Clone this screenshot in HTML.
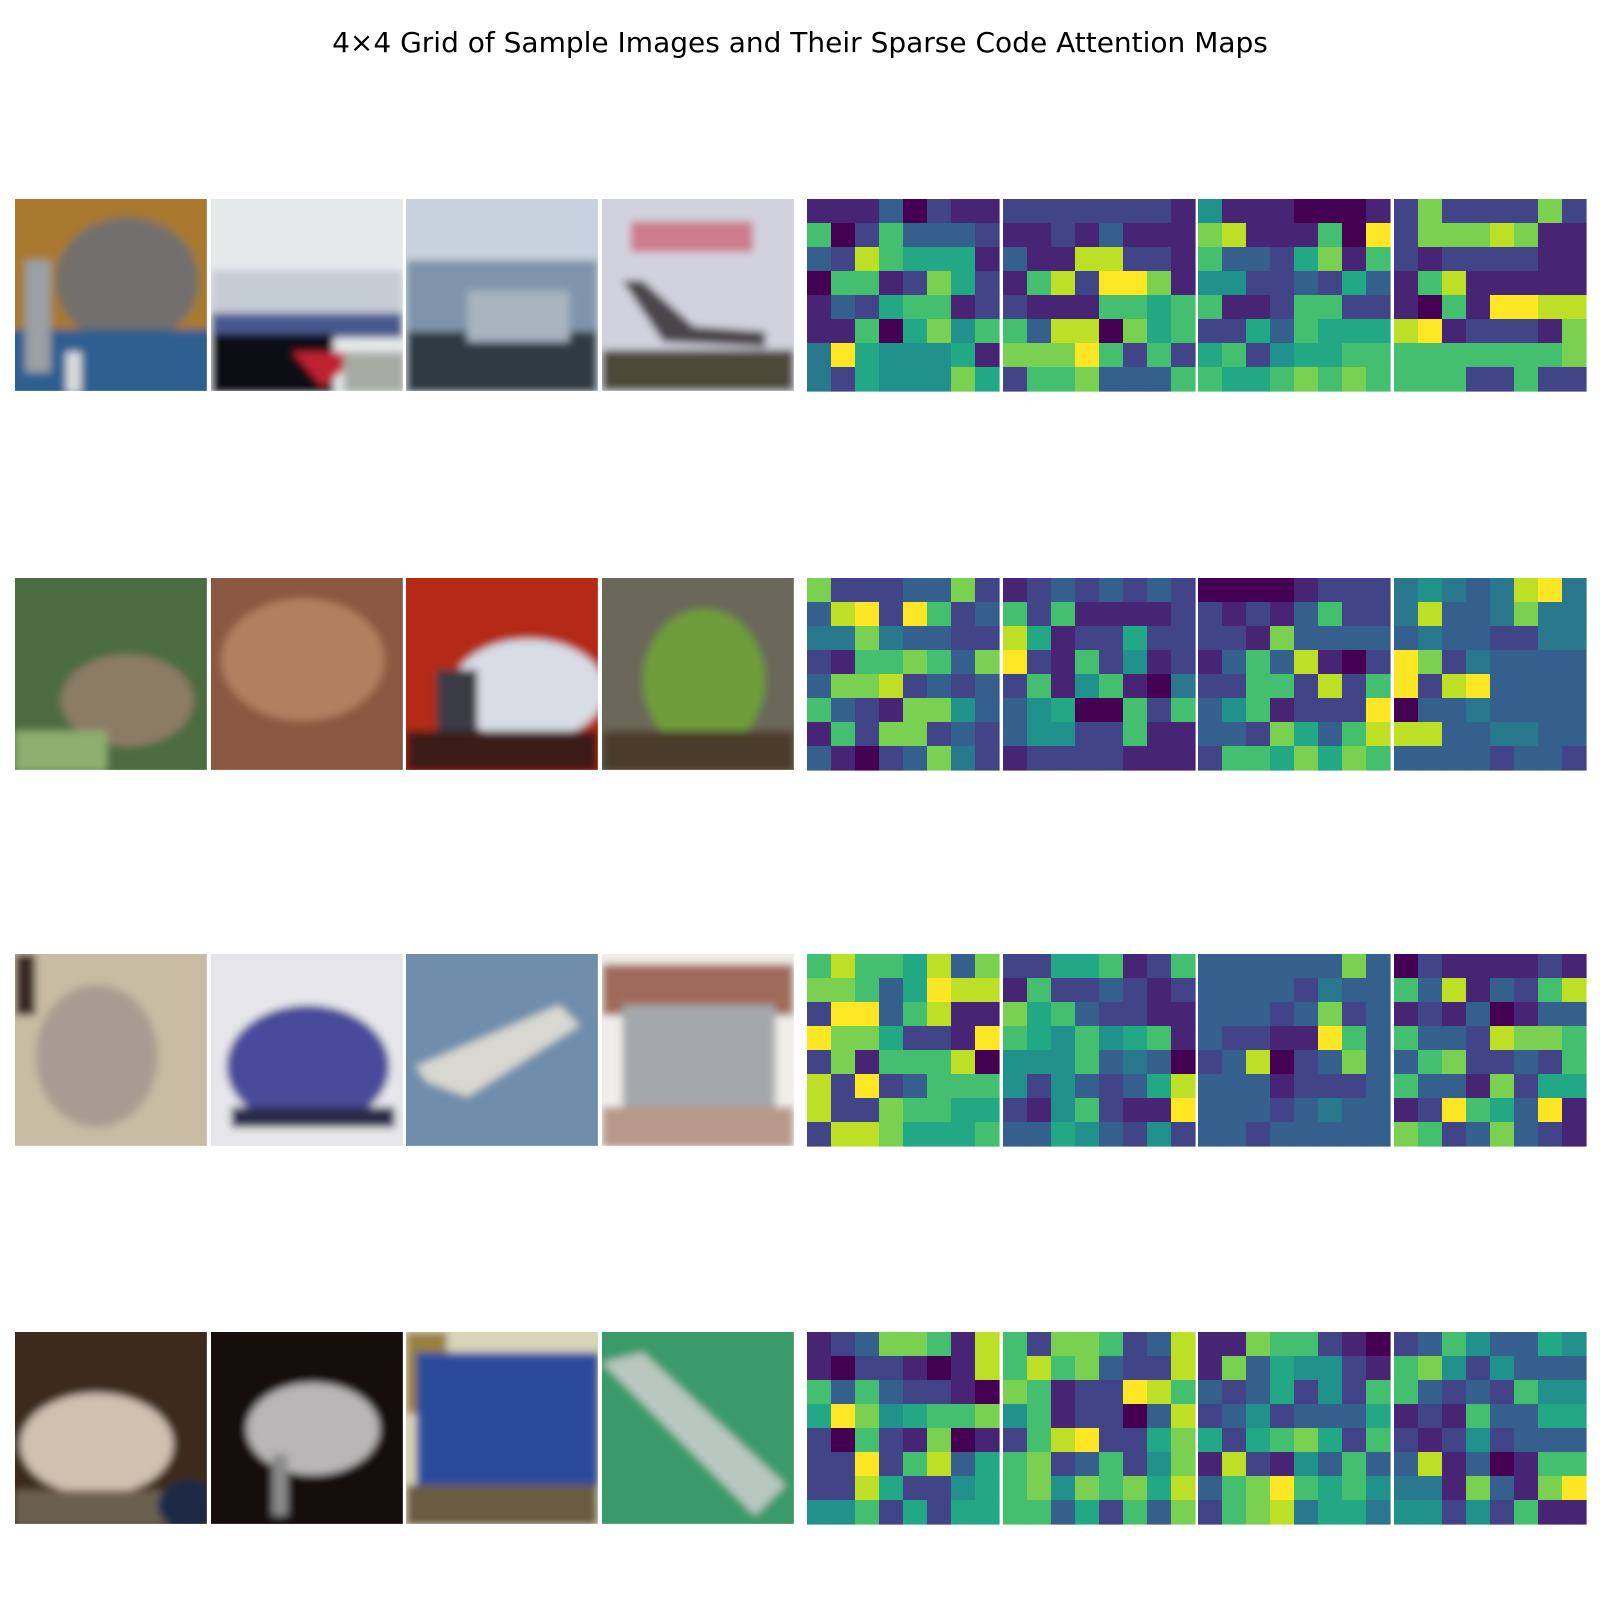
<!DOCTYPE html>
<html><head><meta charset="utf-8"><style>
html,body{margin:0;padding:0;background:#fff;}
#root{position:relative;width:1600px;height:1600px;overflow:hidden;font-family:"DejaVu Sans","Liberation Sans",sans-serif;}
#title{position:absolute;left:0;width:1600px;top:26px;text-align:center;font-size:28px;color:#000;}
svg{position:absolute;left:0;top:0;}
</style></head><body>
<div id="root">
<div id="title">4×4 Grid of Sample Images and Their Sparse Code Attention Maps</div>
<svg id="fig" width="1600" height="1600">
<defs><filter id="bl" x="-10%" y="-10%" width="120%" height="120%"><feGaussianBlur stdDeviation="4"/></filter>
<clipPath id="cp"><rect x="0" y="0" width="188" height="188"/></clipPath></defs>
<g transform="translate(15,199) scale(1.0204)" clip-path="url(#cp)"><g filter="url(#bl)">
<rect x="-10" y="-10" width="210" height="210" fill="#a8792e"/><ellipse cx="110" cy="80" rx="70" ry="62" fill="#72706c"/><rect x="-10" y="128" width="210" height="70" fill="#2f5f90"/><rect x="10" y="60" width="25" height="110" fill="#9aa0a4"/><rect x="50" y="150" width="15" height="40" fill="#d8dcde"/></g></g>
<g transform="translate(211,199) scale(1.0204)" clip-path="url(#cp)"><g filter="url(#bl)">
<rect x="-10" y="-10" width="210" height="210" fill="#e6e9ea"/><rect x="0" y="70" width="188" height="50" fill="#c6ccd4"/><rect x="0" y="112" width="188" height="24" fill="#4a5890"/><rect x="0" y="132" width="120" height="60" fill="#0c0a12"/><polygon points="80,150 150,150 110,185" fill="#c02030"/><rect x="130" y="150" width="60" height="40" fill="#a6aca4"/></g></g>
<g transform="translate(406,199) scale(1.0204)" clip-path="url(#cp)"><g filter="url(#bl)">
<rect x="-10" y="-10" width="210" height="210" fill="#c8d2de"/><rect x="0" y="60" width="188" height="80" fill="#7f94aa"/><rect x="0" y="130" width="188" height="60" fill="#2e3a42"/><rect x="60" y="90" width="100" height="50" fill="#a8b4c0"/></g></g>
<g transform="translate(602,199) scale(1.0204)" clip-path="url(#cp)"><g filter="url(#bl)">
<rect x="-10" y="-10" width="210" height="210" fill="#d2d2de"/><rect x="28" y="22" width="120" height="30" fill="#cc7c8c"/><polygon points="20,80 40,80 90,125 160,130 160,145 60,140" fill="#4a4448"/><rect x="0" y="148" width="188" height="40" fill="#4c4838"/></g></g>
<g transform="translate(15,578) scale(1.0204)" clip-path="url(#cp)"><g filter="url(#bl)">
<rect x="-10" y="-10" width="210" height="210" fill="#4c6c40"/><ellipse cx="110" cy="120" rx="65" ry="45" fill="#8c7c66"/><rect x="0" y="150" width="90" height="40" fill="#8cb070"/></g></g>
<g transform="translate(211,578) scale(1.0204)" clip-path="url(#cp)"><g filter="url(#bl)">
<rect x="-10" y="-10" width="210" height="210" fill="#8a5840"/><ellipse cx="90" cy="80" rx="80" ry="60" fill="#b08060"/></g></g>
<g transform="translate(406,578) scale(1.0204)" clip-path="url(#cp)"><g filter="url(#bl)">
<rect x="-10" y="-10" width="210" height="210" fill="#b42a12"/><ellipse cx="120" cy="110" rx="75" ry="50" fill="#d8dce4"/><rect x="0" y="150" width="188" height="40" fill="#3a1a16"/><rect x="30" y="90" width="40" height="60" fill="#3a3a44"/></g></g>
<g transform="translate(602,578) scale(1.0204)" clip-path="url(#cp)"><g filter="url(#bl)">
<rect x="-10" y="-10" width="210" height="210" fill="#6a6858"/><ellipse cx="100" cy="100" rx="60" ry="70" fill="#6e9c3a"/><rect x="0" y="150" width="188" height="40" fill="#4c3a2c"/></g></g>
<g transform="translate(15,954) scale(1.0204)" clip-path="url(#cp)"><g filter="url(#bl)">
<rect x="-10" y="-10" width="210" height="210" fill="#c8bca4"/><ellipse cx="80" cy="100" rx="60" ry="70" fill="#a89c92"/><rect x="0" y="0" width="20" height="60" fill="#3a2a24"/></g></g>
<g transform="translate(211,954) scale(1.0204)" clip-path="url(#cp)"><g filter="url(#bl)">
<rect x="-10" y="-10" width="210" height="210" fill="#e6e6ea"/><ellipse cx="95" cy="110" rx="80" ry="60" fill="#4a4c9a"/><rect x="20" y="150" width="160" height="20" fill="#2a2a4a"/></g></g>
<g transform="translate(406,954) scale(1.0204)" clip-path="url(#cp)"><g filter="url(#bl)">
<rect x="-10" y="-10" width="210" height="210" fill="#6f8eac"/><polygon points="10,110 150,50 170,70 60,140 20,125" fill="#d8d8d0"/></g></g>
<g transform="translate(602,954) scale(1.0204)" clip-path="url(#cp)"><g filter="url(#bl)">
<rect x="-10" y="-10" width="210" height="210" fill="#f0eeea"/><rect x="0" y="10" width="188" height="50" fill="#a06a5a"/><rect x="20" y="50" width="150" height="110" fill="#a4a8aa"/><rect x="0" y="150" width="188" height="40" fill="#b89888"/></g></g>
<g transform="translate(15,1332) scale(1.0204)" clip-path="url(#cp)"><g filter="url(#bl)">
<rect x="-10" y="-10" width="210" height="210" fill="#3c2c1c"/><ellipse cx="80" cy="110" rx="75" ry="50" fill="#d0c0b0"/><rect x="0" y="155" width="188" height="35" fill="#6a6050"/><ellipse cx="170" cy="170" rx="30" ry="25" fill="#1e2a44"/></g></g>
<g transform="translate(211,1332) scale(1.0204)" clip-path="url(#cp)"><g filter="url(#bl)">
<rect x="-10" y="-10" width="210" height="210" fill="#14100e"/><ellipse cx="100" cy="95" rx="65" ry="45" fill="#b8b6b6"/><rect x="60" y="120" width="15" height="60" fill="#8a8a8a"/></g></g>
<g transform="translate(406,1332) scale(1.0204)" clip-path="url(#cp)"><g filter="url(#bl)">
<rect x="-10" y="-10" width="210" height="210" fill="#d8d4b8"/><rect x="0" y="0" width="40" height="80" fill="#9a8040"/><rect x="10" y="20" width="180" height="130" fill="#2a4c9c"/><rect x="0" y="150" width="188" height="40" fill="#6a5c40"/></g></g>
<g transform="translate(602,1332) scale(1.0204)" clip-path="url(#cp)"><g filter="url(#bl)">
<rect x="-10" y="-10" width="210" height="210" fill="#3a9a6a"/><polygon points="0,30 40,20 180,150 150,180" fill="#b8c8c0"/></g></g>
</svg>
</div>
<script>
var map1=[[1,1,1,3,0,2,1,1],[7,0,2,7,3,3,3,2],[3,2,9,7,6,6,6,1],[0,7,7,1,2,8,6,2],[1,3,2,6,7,7,1,2],[1,1,7,0,6,8,5,7],[4,10,6,5,5,5,6,1],[4,2,6,5,5,5,8,6]];
var map2=[[2,2,2,2,2,2,2,1],[1,1,2,1,3,1,1,1],[3,1,1,9,9,2,2,1],[1,7,9,2,10,10,8,1],[2,1,1,1,7,7,6,7],[7,3,9,9,0,8,6,7],[8,8,8,10,7,2,7,2],[2,7,7,8,3,3,3,7]];
var map3=[[5,1,1,1,0,0,0,1],[8,9,1,1,1,7,0,10],[7,3,3,2,6,8,1,7],[5,5,2,2,3,2,6,3],[7,1,1,2,7,7,2,2],[2,2,6,3,7,6,6,6],[6,7,2,5,6,6,7,7],[7,6,6,7,8,7,8,7]];
var map4=[[2,8,2,2,2,2,8,2],[2,8,8,8,9,8,1,1],[2,1,2,2,2,2,1,1],[1,7,9,1,1,1,1,1],[1,0,7,1,10,10,9,9],[9,10,1,2,2,2,1,8],[7,7,7,7,7,7,7,8],[7,7,7,2,2,7,2,2]];
var map5=[[8,2,2,2,3,3,8,2],[3,9,10,2,10,7,2,3],[4,4,8,4,3,3,2,2],[2,1,7,7,8,7,3,8],[3,8,8,9,2,3,2,3],[7,3,2,1,8,8,5,3],[1,7,2,8,8,2,3,2],[3,1,0,2,3,8,4,2]];
var map6=[[1,2,3,2,3,2,3,2],[7,2,7,1,1,1,1,2],[9,6,1,2,2,6,2,2],[10,2,1,7,2,5,1,2],[2,7,1,5,7,1,0,4],[3,5,6,0,0,7,2,7],[3,5,5,2,2,7,1,1],[1,2,2,2,2,1,1,1]];
var map7=[[0,0,0,0,1,2,2,2],[2,1,2,1,3,7,2,2],[2,2,1,8,3,3,3,3],[1,3,7,3,9,1,0,2],[2,2,7,7,2,9,2,7],[3,5,7,1,2,2,2,10],[3,3,2,8,6,3,7,9],[2,7,7,6,8,6,8,7]];
var map8=[[4,5,4,3,4,9,10,4],[4,9,3,3,4,8,4,4],[3,4,3,3,2,2,4,4],[10,8,2,4,3,3,3,3],[10,2,9,10,3,3,3,3],[0,3,3,4,3,3,3,3],[9,9,3,3,4,4,3,3],[3,3,3,3,2,3,3,2]];
var map9=[[7,9,7,7,6,9,3,8],[8,8,7,3,6,10,9,9],[2,10,10,3,7,9,1,1],[10,8,8,6,2,2,1,10],[2,8,1,7,7,7,9,0],[9,2,10,2,3,7,7,7],[9,2,2,8,7,7,6,6],[2,9,9,8,6,6,6,7]];
var map10=[[2,2,6,6,7,1,2,7],[1,7,2,2,3,2,1,2],[8,6,7,3,2,2,1,1],[7,6,5,7,5,6,7,1],[5,5,5,7,3,4,3,0],[5,2,5,3,2,3,6,9],[2,1,5,7,2,1,1,10],[3,3,6,5,3,2,5,2]];
var map11=[[3,3,3,3,3,3,8,3],[3,3,3,3,2,4,3,3],[3,3,3,2,3,8,2,3],[3,2,2,1,1,10,7,3],[2,3,9,0,2,3,8,3],[3,3,3,1,2,2,2,3],[3,3,3,2,3,4,3,3],[3,3,2,3,3,3,3,3]];
var map12=[[0,2,1,1,1,1,2,1],[7,3,9,1,3,2,7,9],[1,2,1,3,0,1,3,3],[7,3,3,2,9,8,8,7],[3,7,8,2,2,3,2,7],[7,3,3,1,8,2,6,6],[1,2,10,7,6,3,10,1],[8,7,2,3,8,3,2,1]];
var map13=[[1,2,3,8,8,7,1,9],[1,0,2,2,1,0,1,9],[7,3,7,3,2,2,1,0],[6,10,8,5,6,7,7,8],[2,0,7,2,1,8,0,1],[2,2,10,2,7,9,3,6],[2,2,9,6,2,2,5,6],[5,5,7,2,6,2,6,6]];
var map14=[[7,2,8,8,7,2,3,9],[7,9,7,8,3,2,2,9],[8,7,1,2,2,10,9,7],[5,7,1,2,2,0,3,9],[2,7,9,10,2,2,6,8],[7,8,2,3,7,2,5,8],[7,8,5,8,7,8,6,9],[7,7,3,6,2,7,3,8]];
var map15=[[1,1,8,7,7,2,1,0],[1,8,3,6,5,5,2,1],[3,2,3,6,2,5,2,7],[2,3,5,2,3,3,3,6],[6,2,6,7,8,6,2,7],[1,9,2,1,5,3,7,3],[3,7,8,10,7,6,7,5],[2,7,8,9,4,6,6,4]];
var map16=[[2,3,7,5,3,3,6,5],[7,8,5,2,5,3,3,3],[7,3,2,3,2,7,5,5],[1,2,1,7,3,3,6,6],[2,1,2,5,2,3,3,3],[3,9,1,3,0,1,7,7],[4,4,1,8,3,1,8,10],[5,5,2,5,2,7,1,1]];
var maps=[map1,map2,map3,map4,map5,map6,map7,map8,map9,map10,map11,map12,map13,map14,map15,map16];
var vmin=0, vmax=10;

var viridis=["#440154","#482475","#414487","#355f8d","#2a788e","#21918c","#22a884","#44bf70","#7ad151","#bddf26","#fde725"];
function colorOf(v){var t=(v-vmin)/(vmax-vmin)*10;var i=Math.max(0,Math.min(10,Math.round(t)));return viridis[i];}
var colX=[807,1003,1198,1394], rowY=[199,578,954,1332], size=192;
function xScale(panel,c){return colX[panel]+c*size/8;}
function yScale(row,r){return rowY[row]+r*size/8;}
var svg=document.getElementById('fig');
var NS='http://www.w3.org/2000/svg';
maps.forEach(function(m,k){
  var row=Math.floor(k/4), panel=k%4;
  var g=document.createElementNS(NS,'g');
  
  
  m.forEach(function(line,r){line.forEach(function(v,c){
    var rc=document.createElementNS(NS,'rect');
    rc.setAttribute('x',xScale(panel,c));rc.setAttribute('y',yScale(row,r));
    rc.setAttribute('width',size/8+0.6);rc.setAttribute('height',size/8+0.6);
    rc.setAttribute('fill',colorOf(v));
    
    
    g.appendChild(rc);
  });});
  svg.appendChild(g);
});
</script>
</body></html>
